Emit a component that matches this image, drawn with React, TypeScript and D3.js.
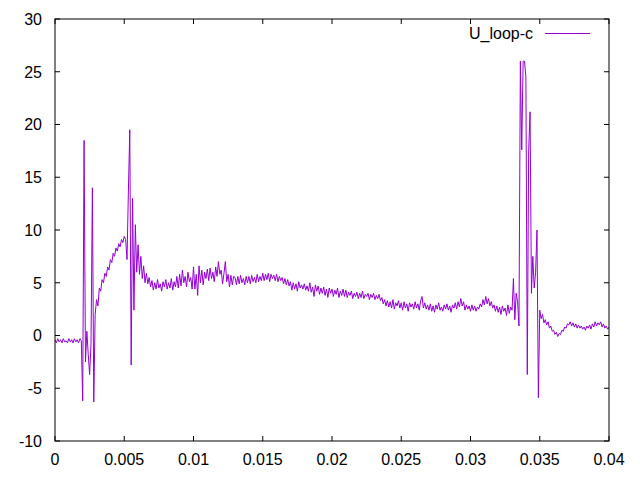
import React from "react";
import * as d3 from "d3";

const seriesName = "U_loop-c";
const timeStep = 0.0001;
// U_loop-c values sampled every 0.0001 s from 0 to 0.04
const uLoop: number[] = [
  -0.4, -0.7, -0.3, -0.6, -0.4, -0.7, -0.3, -0.6, -0.5, -0.7,
  -0.3, -0.6, -0.4, -0.7, -0.3, -0.6, -0.4, -0.7, -0.3, -0.5,
  -6.2, 18.5, -2.5, 0.4, -1.8, -3.7, -0.8, 14.0, -6.3, 2.0,
  3.4, 2.8, 4.5, 4.2, 5.3, 5.0, 5.9, 5.6, 6.5, 6.2,
  7.2, 6.9, 7.8, 7.5, 8.3, 8.0, 8.7, 8.4, 9.1, 8.8,
  9.4, 9.1, 7.2, 13.7, 19.5, -2.8, 13.0, 2.4, 10.5, 6.0,
  8.6, 5.8, 7.5, 5.4, 6.6, 5.0, 5.9, 4.9, 5.5, 4.6,
  5.2, 4.3, 5.0, 4.4, 5.3, 4.5, 4.9, 4.2, 5.1, 4.6,
  5.3, 4.4, 5.0, 4.5, 5.4, 4.3, 5.1, 4.6, 5.6, 4.5,
  5.8, 4.7, 6.2, 5.0, 5.6, 4.6, 6.0, 5.1, 5.5, 4.4,
  6.5, 4.4, 5.8, 3.8, 6.6, 5.0, 6.2, 4.8, 6.0, 5.4,
  6.3, 5.2, 6.4, 5.4, 6.0, 5.1, 6.5, 5.6, 7.0, 5.8,
  6.2, 4.9, 5.9, 7.0, 5.1, 5.8, 4.6, 5.7, 4.8, 5.6,
  5.5, 4.8, 5.6, 4.9, 5.7, 5.0, 5.4, 4.8, 5.6, 5.0,
  5.6, 4.9, 5.7, 5.1, 5.5, 5.0, 5.8, 5.1, 5.6, 5.2,
  5.9, 5.2, 5.8, 5.3, 5.9, 5.1, 5.8, 5.4, 5.7, 5.2,
  5.8, 5.1, 5.6, 5.2, 5.5, 4.9, 5.4, 4.8, 5.3, 4.7,
  5.1, 4.3, 5.0, 4.4, 4.9, 4.2, 5.1, 4.5, 4.8, 4.4,
  4.9, 4.3, 4.7, 4.2, 5.0, 4.1, 4.6, 3.7, 4.8, 4.2,
  4.7, 3.9, 4.5, 4.0, 4.6, 3.8, 4.4, 3.6, 4.5, 4.0,
  4.4, 3.7, 4.3, 3.9, 4.5, 3.6, 4.2, 3.8, 4.4, 3.7,
  4.3, 3.6, 4.1, 3.8, 4.2, 3.5, 4.0, 3.7, 4.1, 3.5,
  4.0, 3.6, 4.2, 3.5, 3.9, 3.7, 4.0, 3.4, 3.9, 3.6,
  4.0, 3.4, 3.8, 3.5, 3.9, 3.3, 3.6, 3.0, 3.4, 2.8,
  3.3, 2.7, 3.2, 2.6, 3.4, 2.5, 3.1, 2.8, 3.3, 2.6,
  3.1, 2.4, 3.2, 2.6, 3.0, 2.3, 3.1, 2.7, 3.0, 2.5,
  3.2, 2.6, 3.0, 2.4, 3.3, 3.7, 2.6, 3.1, 2.5, 2.9,
  2.4, 3.0, 2.3, 2.8, 2.2, 2.9, 2.5, 3.1, 2.4, 2.7,
  2.3, 2.9, 2.5, 3.0, 2.4, 2.8, 2.2, 2.9, 2.6, 3.1,
  2.5, 3.2, 2.7, 3.5, 2.8, 3.2, 2.4, 2.9, 2.5, 2.8,
  2.3, 2.9, 2.4, 2.8, 2.3, 2.7, 2.5, 3.0, 2.7, 3.4,
  2.9, 3.7, 3.0, 3.5, 2.8, 3.2, 2.6, 2.9, 2.3, 2.8,
  2.2, 2.7, 2.0, 2.8, 2.3, 2.6, 1.9, 2.9, 2.1, 2.7,
  2.4, 5.4, 1.5, 4.0, 3.2, 0.9, 26.0, 17.6, 26.0, 26.0,
  24.5, -3.7, 17.5, 21.2, 4.0, 7.5, 4.5, 6.0, 10.0, -5.9,
  2.4, 1.6, 2.0, 1.2, 1.5, 1.0, 1.3, 0.7, 0.9, 0.4,
  0.5, 0.1, 0.3, -0.1, 0.2, 0.1, 0.5, 0.4, 0.8, 0.7,
  1.1, 1.0, 1.3, 0.9, 1.2, 0.8, 1.1, 0.7, 1.0, 0.7,
  0.9, 0.6, 0.8, 0.5, 0.9, 0.7, 1.0, 0.6, 1.1, 0.8,
  1.3, 0.9, 1.2, 1.0, 1.3, 0.8, 1.1, 0.7, 0.9, 0.6,
  0.8,
];
const xTicks = [0, 0.005, 0.01, 0.015, 0.02, 0.025, 0.03, 0.035, 0.04];
const yTicks = [-10, -5, 0, 5, 10, 15, 20, 25, 30];

const W = 640;
const H = 480;
const left = 55;
const right = 609;
const top = 19;
const bottom = 441;
const lineColor = "#9400d3";
const font = "'Liberation Sans', Arial, sans-serif";
const tickLen = 5;

export default function App() {
  const x = d3.scaleLinear().domain([0, 0.04]).range([left, right]);
  const y = d3.scaleLinear().domain([-10, 30]).range([bottom, top]);
  const pts: [number, number][] = uLoop.map((v, i) => [i * timeStep, v]);
  const line = d3
    .line<[number, number]>()
    .x((d) => x(d[0]))
    .y((d) => y(d[1]));

  return (
    <svg
      width={W}
      height={H}
      style={{ position: "absolute", left: 0, top: 0, background: "#fff" }}
    >
      <rect x={0} y={0} width={W} height={H} fill="#fff" />
      <defs>
        <clipPath id="plotclip">
          <rect x={left} y={top} width={right - left} height={bottom - top} />
        </clipPath>
      </defs>
      {yTicks.map((t) => (
        <g key={"y" + t}>
          <line x1={left} x2={left + tickLen} y1={y(t)} y2={y(t)} stroke="#000" />
          <line x1={right} x2={right - tickLen} y1={y(t)} y2={y(t)} stroke="#000" />
          <text
            x={left - 13}
            y={y(t)}
            dy="0.36em"
            textAnchor="end"
            fontFamily={font}
            fontSize={16}
            fill="#000"
          >
            {t}
          </text>
        </g>
      ))}
      {xTicks.map((t) => (
        <g key={"x" + t}>
          <line x1={x(t)} x2={x(t)} y1={bottom} y2={bottom - tickLen} stroke="#000" />
          <line x1={x(t)} x2={x(t)} y1={top} y2={top + tickLen} stroke="#000" />
          <text
            x={x(t)}
            y={465}
            textAnchor="middle"
            fontFamily={font}
            fontSize={16}
            fill="#000"
          >
            {String(t)}
          </text>
        </g>
      ))}
      <path
        d={line(pts) || ""}
        fill="none"
        stroke={lineColor}
        strokeWidth={1}
        clipPath="url(#plotclip)"
      />
      <rect
        x={left}
        y={top}
        width={right - left}
        height={bottom - top}
        fill="none"
        stroke="#000"
        strokeWidth={1}
      />
      <text
        x={533}
        y={39}
        textAnchor="end"
        fontFamily={font}
        fontSize={16}
        fill="#000"
      >
        {seriesName}
      </text>
      <line x1={545} x2={590} y1={33.5} y2={33.5} stroke={lineColor} strokeWidth={1} />
    </svg>
  );
}
